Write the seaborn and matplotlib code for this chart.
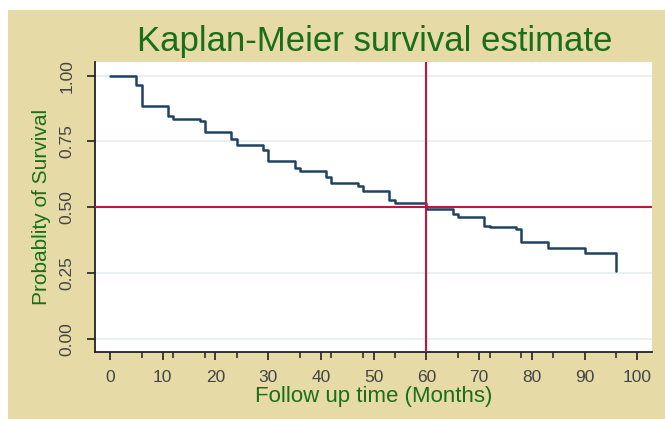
import numpy as np
import pandas as pd
import seaborn as sns
import matplotlib.pyplot as plt
from matplotlib.patches import Rectangle

# Kaplan-Meier estimate
months = [0, 5, 6, 11, 12, 17, 18, 23, 24, 29, 30, 35, 36, 41, 42, 47, 48,
          53, 54, 60, 65, 66, 71, 72, 77, 78, 83, 90, 96]
survival = [1.000, 0.966, 0.886, 0.846, 0.835, 0.826, 0.787, 0.760, 0.737,
            0.717, 0.674, 0.650, 0.637, 0.615, 0.592, 0.582, 0.561, 0.529,
            0.518, 0.492, 0.474, 0.463, 0.429, 0.425, 0.419, 0.369, 0.347,
            0.325, 0.259]
x_ticks = [0, 10, 20, 30, 40, 50, 60, 70, 80, 90, 100]
x_minor = [6, 12, 18, 24, 36, 42, 48, 54, 66, 72, 78, 84, 96]
y_ticks = [0.00, 0.25, 0.50, 0.75, 1.00]
median_time = 60
half = 0.5

km = pd.DataFrame({"Months": months, "Survival": survival})

sns.set_theme(style="white")
plt.rcParams['font.family'] = ['Liberation Sans', 'DejaVu Sans']

W, H = 665, 422
fig = plt.figure(figsize=(W / 100, H / 100), dpi=100, facecolor="white")
fig.patches.append(Rectangle((8 / W, 3 / H), 657 / W, 409 / H,
                             transform=fig.transFigure, facecolor="#E6DAA6",
                             edgecolor="none", zorder=-5))
ax = fig.add_axes([95 / W, (H - 352) / H, 557 / W, 290 / H])
ax.set_zorder(1)
ax.set_facecolor("white")

for y in y_ticks:
    ax.axhline(y, color="#E6EEF0", lw=1.2, zorder=0)

sns.lineplot(data=km, x="Months", y="Survival", drawstyle="steps-post",
             color="#1E4262", lw=1.8, ax=ax, zorder=3)
ax.axvline(median_time, color="#C0163F", lw=1.5, zorder=4)
ax.axhline(half, color="#C0163F", lw=1.5, zorder=4)

ax.set_xlim(-2.85, 102.8)
ax.set_ylim(-0.05, 1.052)
ax.set_xticks(x_ticks)
ax.set_xticks(x_minor, minor=True)
ax.set_yticks(y_ticks)
ax.set_yticklabels(["%.2f" % v for v in y_ticks], rotation=90, va="center")

for s in ["top", "right"]:
    ax.spines[s].set_visible(False)
for s in ["left", "bottom"]:
    ax.spines[s].set_color("#222222")
    ax.spines[s].set_linewidth(1.3)

ax.tick_params(axis="both", which="major", direction="out", length=6,
               width=1.2, color="#222222", labelsize=12.5, labelcolor="#444444",
               bottom=True, left=True)
ax.tick_params(axis="x", which="major", pad=7)
ax.tick_params(axis="y", which="major", pad=9)
ax.tick_params(axis="x", which="minor", direction="out", length=4,
               width=1.1, color="#222222", bottom=True)

ax.set_xlabel("Follow up time (Months)", fontsize=16, color="#1A6E1A", labelpad=1)
ax.set_ylabel("Probablity of Survival", fontsize=15, color="#1A6E1A", labelpad=6)
fig.text(375 / W, 1 - 42 / H, "Kaplan-Meier survival estimate", fontsize=25,
         color="#1A6E1A", ha="center", va="center")

fig.savefig("out.png", dpi=100, facecolor=fig.get_facecolor())
